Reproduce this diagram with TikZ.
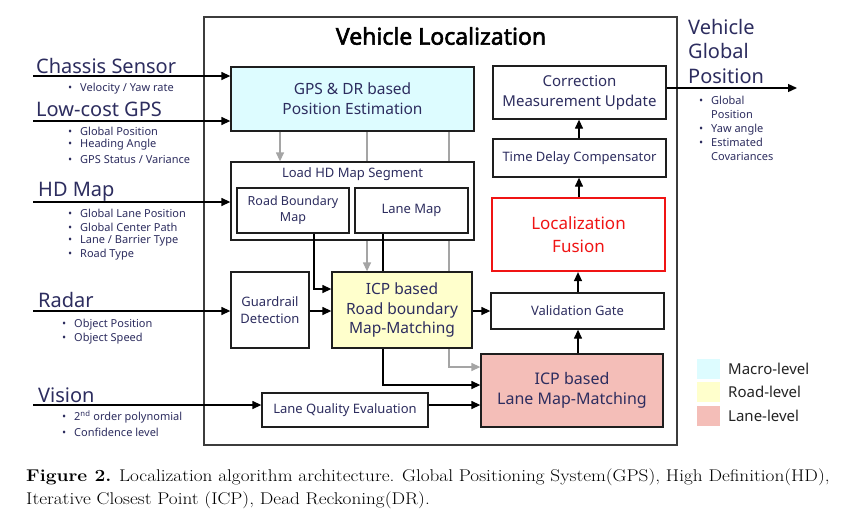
\documentclass[tikz,border=0pt]{standalone}
\usepackage{graphicx}
\usepackage{fontspec}
\newfontfamily\dfont{Noto Sans}
\newfontfamily\tfont[FakeBold=2.5]{Noto Sans}
\usetikzlibrary{arrows.meta,backgrounds}
\definecolor{navy}{RGB}{45,45,95}
\definecolor{boxc}{RGB}{30,30,30}
\definecolor{bigc}{RGB}{60,60,60}
\definecolor{grayl}{RGB}{165,165,165}
\definecolor{cyanf}{RGB}{221,252,255}
\definecolor{yelf}{RGB}{255,255,204}
\definecolor{salf}{RGB}{244,190,184}
\definecolor{redc}{RGB}{240,20,20}
\definecolor{legc}{RGB}{35,35,35}
\newcommand{\fs}[2]{\fontsize{#1}{#2}\selectfont}
\newcommand{\bl}{\llap{\textbullet\hspace{8pt}}}
\begin{document}
\begin{tikzpicture}[x=1pt,y=-1pt,font=\dfont,
  box/.style={draw=boxc,line width=1.3pt,fill=white,text=navy,align=center,inner sep=0pt,anchor=center},
  arr/.style={line width=1.3pt,draw=black,-{Triangle[length=9pt,width=8pt]}},
  garr/.style={line width=1.3pt,draw=grayl,-{Triangle[length=9pt,width=8pt]}},
  gline/.style={line width=1.3pt,draw=grayl},
  bline/.style={line width=1.3pt,draw=black},
  intitle/.style={anchor=base west,text=navy,font=\dfont\fs{20}{24},inner sep=0pt},
  bul/.style={anchor=west,text=navy,font=\dfont\fs{11}{14},inner sep=0pt},
  leg/.style={anchor=west,text=legc,font=\dfont\fs{15}{18},inner sep=0pt},
  capline/.style={anchor=base west,inner sep=0pt,font=\fs{17}{22}}]
\useasboundingbox (0,0) rectangle (844,528);
% big box
\node[draw=bigc,line width=2pt,minimum width=473pt,minimum height=428pt,inner sep=0pt] (vl) at (440.5,231) {};
\node[font=\tfont\fs{23}{26},text=black] (title) at (441,36) {Vehicle Localization};
% boxes
\node[box,fill=cyanf,minimum width=243pt,minimum height=64pt,font=\dfont\fs{15.5}{20}] (gps) at (352.5,99) {GPS \& DR based\\Position Estimation};
\node[box,minimum width=243pt,minimum height=78pt] (loadhd) at (352.5,201) {};
\node[text=navy,font=\dfont\fs{13}{16}] (loadlbl) at (352.5,174) {Load HD Map Segment};
\node[box,minimum width=112pt,minimum height=45pt,font=\dfont\fs{12.5}{16}] (rbm) at (293,210.5) {Road Boundary\\Map};
\node[box,minimum width=113pt,minimum height=45pt,font=\dfont\fs{13}{16}] (lanemap) at (411.5,210.5) {Lane Map};
\node[box,minimum width=78pt,minimum height=76pt,font=\dfont\fs{13}{17}] (guard) at (270,310) {Guardrail\\Detection};
\node[box,fill=yelf,minimum width=140pt,minimum height=76pt,font=\dfont\fs{15.5}{19.5}] (icpr) at (402,310) {ICP based\\Road boundary\\Map-Matching};
\node[box,minimum width=173pt,minimum height=36pt,font=\dfont\fs{13}{16}] (valg) at (577.5,311) {Validation Gate};
\node[box,fill=salf,minimum width=182pt,minimum height=73pt,font=\dfont\fs{16}{20}] (lanemm) at (572,390.5) {ICP based\\Lane Map-Matching};
\node[box,minimum width=166pt,minimum height=34pt,font=\dfont\fs{13}{16}] (lqe) at (345,410) {Lane Quality Evaluation};
\node[box,minimum width=173pt,minimum height=53pt,font=\dfont\fs{15}{20}] (cmu) at (579.5,92.5) {Correction\\Measurement Update};
\node[box,minimum width=173pt,minimum height=38pt,font=\dfont\fs{13}{16}] (tdc) at (579.5,158) {Time Delay Compensator};
\node[box,draw=redc,line width=2.2pt,text=redc,minimum width=173pt,minimum height=73pt,font=\dfont\fs{17}{23}] (fusion) at (578.5,234.5) {Localization\\Fusion};
% input labels
\node[intitle] (tchassis) at (36,73) {Chassis Sensor};
\node[bul] (b1) at (80,89) {\bl Velocity / Yaw rate};
\node[intitle] (tgps) at (36,116) {Low-cost GPS};
\node[bul] (b2) at (80,131) {\bl Global Position};
\node[bul] (b3) at (80,145) {\bl Heading Angle};
\node[bul] (b4) at (80,159) {\bl GPS Status / Variance};
\node[intitle] (thd) at (38,196) {HD Map};
\node[bul] (b5) at (80,213) {\bl Global Lane Position};
\node[bul] (b6) at (80,227) {\bl Global Center Path};
\node[bul] (b7) at (80,241) {\bl Lane / Barrier Type};
\node[bul] (b8) at (80,255) {\bl Road Type};
\node[intitle] (tradar) at (38,307) {Radar};
\node[bul] (b9) at (74,325) {\bl Object Position};
\node[bul] (b10) at (74,339) {\bl Object Speed};
\node[intitle] (tvision) at (38,402) {Vision};
\node[bul] (b11) at (74,417) {\bl 2\textsuperscript{nd} order polynomial};
\node[bul] (b12) at (74,432) {\bl Confidence level};
% output
\node[anchor=west,text=navy,font=\dfont\fs{20}{24.5},align=left,inner sep=0pt] (tout) at (688,51) {Vehicle\\Global\\Position};
\node[anchor=north west,text=navy,font=\dfont\fs{11}{14},align=left,inner sep=0pt] (bout) at (711,96) {\bl Global\\Position\\\bl Yaw angle\\\bl Estimated\\Covariances};
% legend
\node[fill=cyanf,minimum width=23pt,minimum height=20pt,inner sep=0pt] (lg1) at (708.5,369) {};
\node[fill=yelf,minimum width=23pt,minimum height=20pt,inner sep=0pt] (lg2) at (708.5,392) {};
\node[fill=salf,minimum width=23pt,minimum height=20pt,inner sep=0pt] (lg3) at (708.5,416) {};
\node[leg] (lt1) at (728,369) {Macro-level};
\node[leg] (lt2) at (728,392) {Road-level};
\node[leg] (lt3) at (728,416) {Lane-level};
% caption
\node[capline] (cap1) at (26,481) {\scalebox{1.13}[1]{\textbf{Figure 2.} Localization algorithm architecture. Global Positioning System(GPS), High Definition(HD),}};
\node[capline] (cap2) at (26,504) {\scalebox{1.13}[1]{Iterative Closest Point (ICP), Dead Reckoning(DR).}};
% input coordinates
\coordinate (inA) at (33,76);
\coordinate (inB) at (33,121);
\coordinate (inC) at (33,202);
\coordinate (inD) at (33,311);
\coordinate (inE) at (33,405);
\coordinate (outP) at (797,88);
% background connectors
\begin{scope}[on background layer]
\fill[white] (0,0) rectangle (844,528);
\draw[garr] (gps.south -| 367,0) -- (icpr.north -| 367,0);
\draw[garr] (gps.south -| 449,0) -- (449,367) -- (lanemm.west |- 0,367);
\draw[arr] (lanemap.south -| 383,0) -- (383,385) -- (lanemm.west |- 0,385);
\end{scope}
% main connectors
\draw[garr] (gps.south -| 280,0) -- (loadhd.north -| 280,0);
\draw[bline] (lanemap.south -| 383,0) -- (icpr.north -| 383,0);
\draw[arr] (rbm.south -| 314,0) -- (314,289) -- (icpr.west |- 0,289);
\draw[arr] (inA) -- (gps.west |- inA);
\draw[arr] (inB) -- (gps.west |- inB);
\draw[arr] (inC) -- (loadhd.west |- inC);
\draw[arr] (inD) -- (guard.west |- inD);
\draw[arr] (inE) -- (lqe.west |- inE);
\draw[arr] (guard.east |- 0,311) -- (icpr.west |- 0,311);
\draw[arr] (icpr.east |- 0,311) -- (valg.west |- 0,311);
\draw[arr] (lqe.east |- inE) -- (lanemm.west |- inE);
\draw[arr] (lanemm.north -| 578,0) -- (valg.south -| 578,0);
\draw[arr] (valg.north -| 578,0) -- (fusion.south -| 578,0);
\draw[arr] (fusion.north -| 579,0) -- (tdc.south -| 579,0);
\draw[arr] (tdc.north -| 579,0) -- (cmu.south -| 579,0);
\draw[arr] (cmu.east |- outP) -- (outP);
\end{tikzpicture}
\end{document}
